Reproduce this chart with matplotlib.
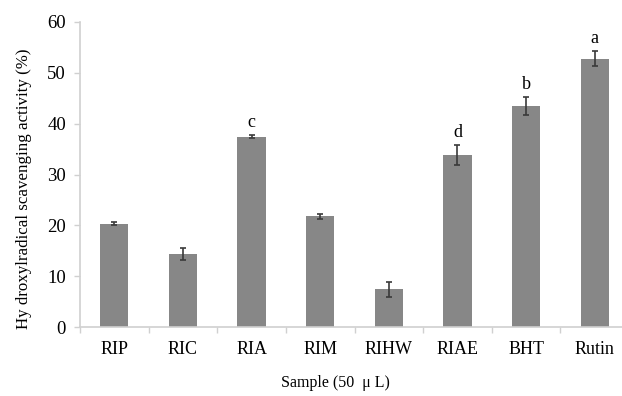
import numpy as np
from matplotlib import pyplot as plt

# data
samples = ['RIP', 'RIC', 'RIA', 'RIM', 'RIHW', 'RIAE', 'BHT', 'Rutin']
activity = [20.3, 14.4, 37.4, 21.8, 7.4, 33.8, 43.5, 52.8]
errors = [0.3, 1.2, 0.3, 0.5, 1.4, 2.0, 1.7, 1.5]
letters = ['', '', 'c', '', '', 'd', 'b', 'a']

plt.rcParams['font.family'] = ['Liberation Serif', 'DejaVu Serif']

fig = plt.figure(figsize=(6.22, 3.96), dpi=100)
ax = fig.add_axes([80/622, 69/396, 549/622, 305/396])

x = np.arange(len(samples))
ax.bar(x, activity, width=0.41, color='#878787', zorder=2)
ax.errorbar(x, activity, yerr=errors, fmt='none', ecolor='#3a3a3a',
            elinewidth=1.2, capsize=2.5, capthick=1.2, zorder=3)

for i in range(len(samples)):
    if letters[i]:
        ax.text(x[i], activity[i] + errors[i] + 0.8, letters[i],
                ha='center', va='bottom', fontsize=13)

ax.set_xlim(-0.5, 7.5)
ax.set_ylim(0, 60)
ax.set_yticks(range(0, 61, 10))
ax.set_xticks(x)
ax.set_xticklabels(samples, fontsize=13)
ax.tick_params(axis='y', labelsize=13.5, direction='out', length=4,
               color='#d0d0d0', width=1, pad=6)
ax.tick_params(axis='x', length=0, pad=10)
# small boundary ticks between categories
ax.set_xticks(np.arange(-0.5, 8, 1), minor=True)
ax.tick_params(axis='x', which='minor', direction='out', length=4,
               color='#d0d0d0', width=1)

for s in ['top', 'right']:
    ax.spines[s].set_visible(False)
for s in ['left', 'bottom']:
    ax.spines[s].set_color('#d0d0d0')
    ax.spines[s].set_linewidth(1.2)

ax.set_ylabel('Hy droxylradical scavenging activity (%)', fontsize=12.2)
ax.yaxis.set_label_coords(-(80 - 32) / 549, (327 - 189) / 305)
ax.set_xlabel('Sample (50  \u03bc L)', fontsize=11.5)
ax.xaxis.set_label_coords((335 - 80) / 549, -(375 - 327) / 305)

fig.savefig('out.png', dpi=100)
